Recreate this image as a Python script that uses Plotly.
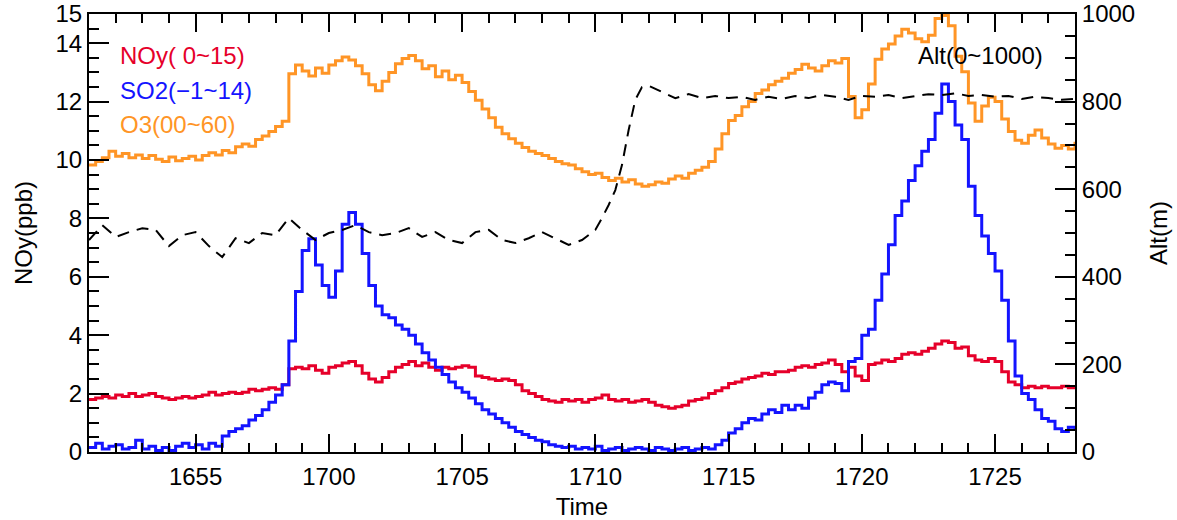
import numpy as np
import pandas as pd
import plotly.graph_objects as go

# Sampling times in minutes after 16:00 (15 s steps, 16:51 - 17:28)
minutes = np.arange(51.0, 88.0001, 0.25)

# NOy (ppb), plotted on the left axis 0~15
noy_ppb = [
    1.80, 1.85, 1.90, 1.85,
    1.95, 1.90, 2.00, 1.90,
    1.95, 2.00, 1.90, 1.85,
    1.80, 1.85, 1.90, 1.85,
    1.90, 1.95, 2.05, 1.95,
    2.00, 2.05, 2.00, 2.05,
    2.15, 2.10, 2.15, 2.20,
    2.15, 2.30, 2.85, 2.90,
    2.85, 2.95, 2.80, 2.70,
    2.90, 2.95, 3.05, 3.10,
    2.95, 2.70, 2.50, 2.40,
    2.55, 2.75, 2.90, 3.00,
    3.10, 2.95, 3.05, 2.90,
    2.80, 2.90, 2.85, 2.90,
    2.95, 2.90, 2.60, 2.55,
    2.50, 2.45, 2.50, 2.45,
    2.30, 2.10, 2.00, 1.90,
    1.80, 1.75, 1.70, 1.80,
    1.75, 1.80, 1.70, 1.80,
    1.85, 1.95, 1.80, 1.75,
    1.80, 1.70, 1.75, 1.80,
    1.70, 1.60, 1.55, 1.50,
    1.55, 1.60, 1.75, 1.80,
    1.85, 2.00, 2.10, 2.20,
    2.35, 2.40, 2.50, 2.55,
    2.60, 2.70, 2.65, 2.75,
    2.75, 2.80, 2.90, 2.95,
    2.90, 3.00, 3.05, 3.15,
    3.00, 2.75, 2.90, 2.60,
    2.45, 3.00, 3.05, 3.15,
    3.10, 3.20, 3.35, 3.40,
    3.35, 3.45, 3.55, 3.70,
    3.80, 3.75, 3.55, 3.60,
    3.30, 3.15, 3.10, 3.20,
    3.10, 2.75, 2.40, 2.30,
    2.20, 2.25, 2.20, 2.25,
    2.20, 2.20, 2.25, 2.20,
    2.20,
]

# SO2 (ppb), scaled -1~14
so2_ppb = [
    -0.85, -0.70, -0.90, -0.80,
    -0.75, -0.90, -0.85, -0.60,
    -0.90, -0.80, -0.95, -0.85,
    -0.95, -0.80, -0.70, -0.85,
    -0.75, -0.90, -0.70, -0.80,
    -0.45, -0.30, -0.20, -0.10,
    0.10, 0.25, 0.45, 0.70,
    0.95, 1.30, 2.80, 4.50,
    5.90, 6.30, 5.40, 4.70,
    4.30, 5.20, 6.80, 7.20,
    6.80, 5.80, 4.70, 4.00,
    3.70, 3.60, 3.35, 3.20,
    3.00, 2.70, 2.40, 2.15,
    1.90, 1.65, 1.40, 1.20,
    1.05, 0.85, 0.65, 0.45,
    0.30, 0.15, 0.00, -0.15,
    -0.30, -0.40, -0.50, -0.60,
    -0.65, -0.75, -0.80, -0.85,
    -0.80, -0.90, -0.85, -0.90,
    -0.80, -0.95, -0.90, -0.85,
    -0.95, -0.90, -0.85, -0.90,
    -0.95, -0.85, -0.90, -0.95,
    -0.90, -0.85, -0.95, -0.90,
    -0.85, -0.90, -0.75, -0.60,
    -0.35, -0.20, 0.00, 0.15,
    0.10, 0.30, 0.45, 0.35,
    0.60, 0.45, 0.60, 0.50,
    0.85, 1.05, 1.30, 1.40,
    1.35, 1.10, 2.10, 2.20,
    3.00, 3.20, 4.20, 5.10,
    6.10, 7.10, 7.60, 8.30,
    8.80, 9.30, 9.70, 10.60,
    11.60, 11.00, 10.20, 9.70,
    8.10, 7.10, 6.40, 5.80,
    5.20, 4.20, 2.80, 1.60,
    1.00, 0.80, 0.45, 0.15,
    0.05, -0.20, -0.30, -0.15,
    -0.25,
]

# O3 (ppb), scaled 0~60
o3_ppb = [
    39.3, 39.8, 40.3, 41.2,
    40.5, 40.9, 40.3, 40.7,
    40.2, 40.6, 40.1, 39.8,
    40.4, 39.9, 40.2, 40.5,
    40.0, 40.6, 41.0, 40.7,
    41.3, 41.0, 41.8, 42.2,
    41.9, 42.8, 43.3, 43.9,
    44.6, 45.3, 51.8, 53.0,
    52.2, 51.5, 52.6, 51.9,
    53.0, 53.6, 54.1, 53.7,
    52.9, 51.8, 50.3, 49.5,
    50.8, 52.0, 53.2, 53.9,
    54.3, 53.6, 52.5, 52.9,
    51.4, 52.2, 51.0, 51.6,
    50.6, 49.4, 48.2, 47.0,
    45.8, 44.5, 43.6, 42.9,
    42.3, 41.7, 41.2, 40.9,
    40.6, 40.2, 39.8, 39.5,
    39.3, 38.8, 38.4, 38.0,
    38.2, 37.6, 37.2, 37.5,
    37.0, 37.3, 36.7, 36.4,
    36.6, 37.0, 36.8, 37.4,
    37.8, 37.5, 38.2, 38.6,
    39.0, 39.8, 41.5, 43.6,
    45.4, 46.1, 47.3, 48.0,
    49.1, 49.6, 50.3, 50.8,
    51.2, 51.9, 52.4, 53.1,
    52.6, 52.2, 52.9, 53.6,
    53.3, 53.9, 48.7, 45.8,
    46.9, 50.4, 53.8, 55.2,
    55.9, 57.0, 57.9, 57.4,
    56.6, 56.2, 57.1, 59.4,
    59.8, 58.4, 54.2, 52.1,
    47.8, 45.3, 47.4, 48.6,
    48.0, 45.6, 43.9, 42.7,
    42.3, 43.4, 44.1, 43.0,
    42.2, 41.6, 42.0, 41.5,
    42.5,
]

# Flight altitude (m), right axis 0~1000
alt_minutes = [
    51.0, 51.5, 52.0, 52.5, 53.0, 53.5, 54.0, 54.5, 55.0, 55.5,
    56.0, 56.5, 57.0, 57.5, 58.0, 58.5, 59.0, 59.5, 60.0, 60.5,
    61.0, 61.5, 62.0, 62.5, 63.0, 63.5, 64.0, 64.5, 65.0, 65.5,
    66.0, 66.5, 67.0, 67.5, 68.0, 68.5, 69.0, 69.5, 70.0, 70.25,
    70.5, 70.75, 71.0, 71.25, 71.5, 71.75, 72.0, 72.5, 73.0, 73.5,
    74.0, 74.5, 75.0, 75.5, 76.0, 76.5, 77.0, 77.5, 78.0, 78.5,
    79.0, 79.5, 80.0, 80.5, 81.0, 81.5, 82.0, 82.5, 83.0, 83.5,
    84.0, 84.5, 85.0, 85.5, 86.0, 86.5, 87.0, 87.5, 88.0,
]
alt_m = [
    484, 518, 491, 502, 511, 507, 470, 495, 502, 470,
    445, 488, 477, 500, 495, 534, 507, 484, 500, 507,
    518, 502, 495, 500, 511, 491, 502, 484, 477, 502,
    507, 484, 477, 488, 502, 488, 473, 484, 507, 534,
    564, 598, 655, 735, 804, 833, 836, 822, 808, 817,
    808, 813, 808, 811, 804, 811, 806, 813, 808, 815,
    811, 804, 813, 811, 815, 808, 813, 817, 815, 819,
    813, 815, 811, 813, 806, 811, 808, 804, 806,
]

RED = "#e6002a"
BLUE = "#1414ff"
ORANGE = "#ff9526"
BLACK = "#000000"
FONT = "Liberation Sans, Arial, sans-serif"

base = pd.Timestamp("2024-01-01 16:00:00")


def clock(m):
    return base + pd.to_timedelta(np.asarray(m, dtype=float), unit="min")


t = clock(minutes)
t_alt = clock(alt_minutes)

fig = go.Figure()
fig.add_trace(go.Scatter(x=t, y=o3_ppb, yaxis="y", mode="lines",
                         line=dict(color=ORANGE, width=3, shape="hv"), name="O3"))
fig.add_trace(go.Scatter(x=t, y=noy_ppb, yaxis="y2", mode="lines",
                         line=dict(color=RED, width=3, shape="hv"), name="NOy"))
fig.add_trace(go.Scatter(x=t, y=so2_ppb, yaxis="y3", mode="lines",
                         line=dict(color=BLUE, width=3, shape="hv"), name="SO2"))
fig.add_trace(go.Scatter(x=t_alt, y=alt_m, yaxis="y4", mode="lines",
                         line=dict(color=BLACK, width=2, dash="12px,8px"), name="Alt"))

tick_font = dict(family=FONT, size=24, color="black")
common = dict(showgrid=False, zeroline=False, showline=True, linewidth=2,
              linecolor="black", ticks="inside", tickwidth=2, tickcolor="black",
              tickfont=tick_font)

fig.update_layout(
    width=1177, height=520,
    margin=dict(l=89, r=102, t=14, b=68),
    paper_bgcolor="white", plot_bgcolor="white",
    showlegend=False,
    xaxis=dict(
        type="date", range=[clock(51), clock(88)],
        tickformat="%H%M", tick0=clock(55), dtick=300000,
        ticklen=18, mirror="ticks", ticklabelstandoff=2,
        minor=dict(dtick=60000, tick0=clock(55), ticks="inside", ticklen=9,
                   tickwidth=2, tickcolor="black", showgrid=False),
        title=dict(text="Time", font=tick_font, standoff=14),
        automargin=False, **common,
    ),
    yaxis=dict(range=[0, 60], visible=False),
    yaxis2=dict(
        overlaying="y", side="left", range=[0, 15],
        tickmode="array", tickvals=[0, 2, 4, 6, 8, 10, 12, 14, 15],
        ticklen=20,
        minor=dict(tickmode="linear", tick0=0, dtick=0.5, ticks="inside", ticklen=10,
                   tickwidth=2, tickcolor="black", showgrid=False),
        title=dict(text="NOy(ppb)", font=tick_font, standoff=16),
        automargin=False, **common,
    ),
    yaxis3=dict(overlaying="y", range=[-1, 14], visible=False),
    yaxis4=dict(
        overlaying="y", side="right", range=[0, 1000],
        tick0=0, dtick=200, ticklen=20,
        minor=dict(tickmode="linear", tick0=0, dtick=50, ticks="inside", ticklen=10,
                   tickwidth=2, tickcolor="black", showgrid=False),
        title=dict(text="Alt(m)", font=tick_font, standoff=16),
        automargin=False, **common,
    ),
)

# Series labels with their scaling ranges
labels = [
    ("NOy( 0~15)", RED, 0.029, 0.906, "left"),
    ("SO2(\u22121~14)", BLUE, 0.029, 0.826, "left"),
    ("O3(00~60)", ORANGE, 0.029, 0.747, "left"),
    ("Alt(0~1000)", BLACK, 0.970, 0.906, "right"),
]
for text, color, x, y, anchor in labels:
    fig.add_annotation(text=text, xref="paper", yref="paper", x=x, y=y,
                       xanchor=anchor, yanchor="middle", showarrow=False,
                       font=dict(family=FONT, size=24, color=color))

fig.write_html("out.html")
